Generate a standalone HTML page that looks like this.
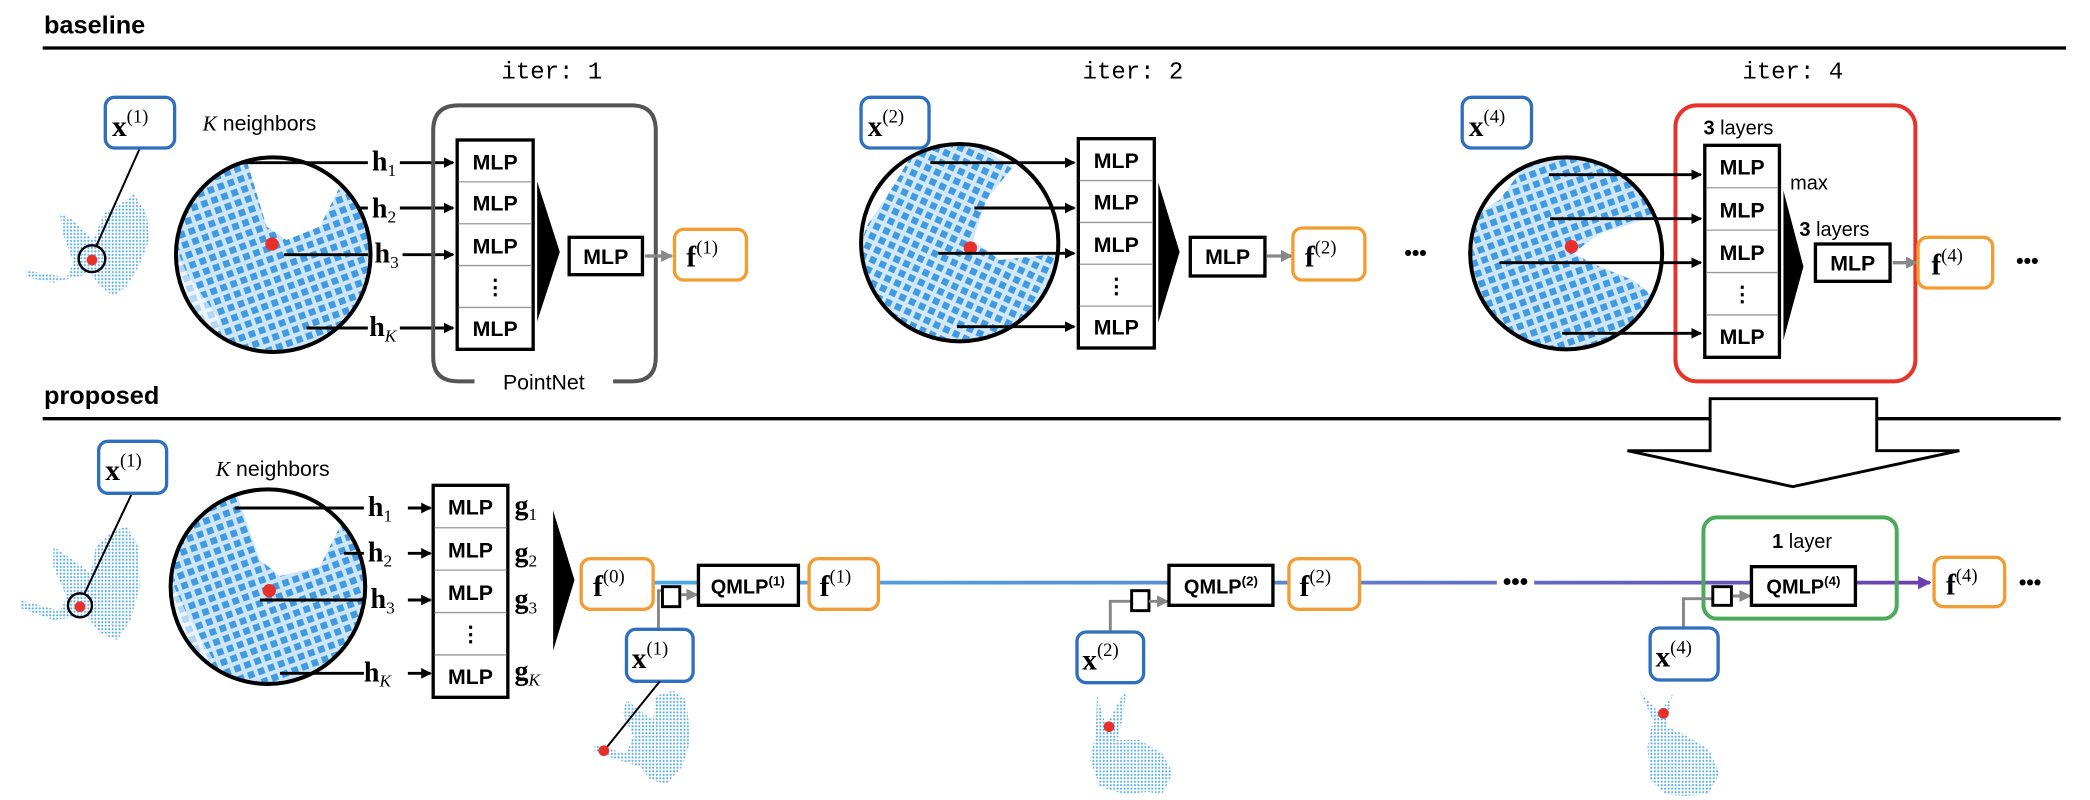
<!DOCTYPE html>
<html><head><meta charset="utf-8"><style>
html,body{margin:0;padding:0;background:#fff;}
svg{display:block;}
.sans{font-family:"Liberation Sans",sans-serif;}
.mlp{font-family:"Liberation Sans",sans-serif;font-weight:bold;font-size:16px;text-anchor:middle;}
.ser{font-family:"Liberation Serif",serif;}
</style></head><body>
<svg width="2090" height="800" viewBox="0 0 1568 600" preserveAspectRatio="none" xmlns="http://www.w3.org/2000/svg">
<defs>
<pattern id="sq" width="8" height="8" patternUnits="userSpaceOnUse" patternTransform="rotate(-20)"><rect x="0" y="0" width="8" height="8" fill="#cfe6f8"/><rect x="1.5" y="1.5" width="5" height="5" fill="#3f9ae0"/></pattern>
<pattern id="sq2" width="8" height="8" patternUnits="userSpaceOnUse" patternTransform="rotate(25)"><rect x="0" y="0" width="8" height="8" fill="#d3e8f8"/><rect x="1.5" y="1.5" width="5" height="5" fill="#3f9ae0"/></pattern>
<pattern id="dots" width="2.6" height="2.6" patternUnits="userSpaceOnUse"><circle cx="1.3" cy="1.3" r="0.8" fill="#5aaee8"/></pattern>
<marker id="ab" markerWidth="8" markerHeight="8" refX="7" refY="4" orient="auto" markerUnits="userSpaceOnUse"><path d="M0,0 L8,4 L0,8 z" fill="#000"/></marker>
<marker id="ag" markerWidth="9" markerHeight="9" refX="8" refY="4.5" orient="auto" markerUnits="userSpaceOnUse"><path d="M0,0 L9,4.5 L0,9 z" fill="#888"/></marker>
<marker id="ap" markerWidth="10" markerHeight="10" refX="9" refY="5" orient="auto" markerUnits="userSpaceOnUse"><path d="M0,0 L10,5 L0,10 z" fill="#6a3fb0"/></marker>
<linearGradient id="lg" x1="490" y1="0" x2="1450" y2="0" gradientUnits="userSpaceOnUse"><stop offset="0" stop-color="#4aa8e8"/><stop offset="0.45" stop-color="#5a8ad8"/><stop offset="1" stop-color="#6a3fb0"/></linearGradient>
<clipPath id="c1"><circle cx="205" cy="191" r="73"/></clipPath>
<clipPath id="c2"><circle cx="720" cy="182" r="74"/></clipPath>
<clipPath id="c4"><circle cx="1175" cy="190" r="72"/></clipPath>
<clipPath id="c5"><circle cx="201" cy="440" r="73"/></clipPath>
</defs>

<text x="33" y="25" class="sans" font-weight="bold" font-size="19">baseline</text>
<line x1="32" y1="36" x2="1550" y2="36" stroke="#000" stroke-width="2.5"/>
<text x="33" y="303" class="sans" font-weight="bold" font-size="19">proposed</text>
<line x1="32" y1="314" x2="1283" y2="314" stroke="#000" stroke-width="2.5"/>
<line x1="1408" y1="314" x2="1546" y2="314" stroke="#000" stroke-width="2.5"/>

<g font-family="Liberation Mono, monospace" font-size="18" text-anchor="middle">
<text x="414" y="59">iter: 1</text>
<text x="850" y="59">iter: 2</text>
<text x="1345" y="59">iter: 4</text>
</g>

<!-- TOP ITER 1 -->
<path d="M20,203 L50,208 L55,197 L47,175 L45,160 L55,165 L70,180 L78,160 L95,150 L100,145 L110,160 L112,180 L104,200 L95,215 L85,222 L75,215 L68,205 L40,212 L20,208 z" fill="url(#dots)"/>
<circle cx="69" cy="195" r="4" fill="#e8302a"/>
<circle cx="69" cy="194" r="10" fill="none" stroke="#000" stroke-width="1.8"/>
<line x1="105" y1="111" x2="72" y2="185" stroke="#000" stroke-width="1.5"/>
<rect x="79" y="73" width="52" height="38" rx="7" fill="#fff" stroke="#2f6fbf" stroke-width="2.5"/>
<text x="84" y="102" class="ser" font-weight="bold" font-size="22">x<tspan font-weight="normal" font-size="14" dy="-10">(1)</tspan></text>
<text x="152" y="98" class="sans" font-size="16"><tspan class="ser" font-style="italic">K</tspan> neighbors</text>
<g clip-path="url(#c1)">
<rect x="130" y="116" width="150" height="150" fill="url(#sq)"/>
<path d="M160,116 L185,120 L200,170 L215,180 L240,170 L255,140 L262,116 z" fill="#fff"/>
<path d="M130,180 L140,205 L165,240 L160,266 L130,266 z" fill="#fff" opacity="0.6"/>
<path d="M130,116 L160,116 L150,135 L130,150 z" fill="#fff"/>
</g>
<circle cx="205" cy="191" r="73" fill="none" stroke="#000" stroke-width="3"/>
<circle cx="204" cy="183" r="5" fill="#e8302a"/>
<g stroke="#000" stroke-width="2.2">
<line x1="180" y1="122" x2="276" y2="122"/>
<line x1="268" y1="156" x2="276" y2="156"/>
<line x1="213" y1="191" x2="276" y2="191"/>
<line x1="230" y1="246" x2="276" y2="246"/>
<line x1="300" y1="122" x2="340" y2="122" marker-end="url(#ab)"/>
<line x1="300" y1="156" x2="340" y2="156" marker-end="url(#ab)"/>
<line x1="302" y1="191" x2="340" y2="191" marker-end="url(#ab)"/>
<line x1="300" y1="246" x2="340" y2="246" marker-end="url(#ab)"/>
</g>
<g class="ser" font-weight="bold" font-size="21">
<text x="279" y="128">h<tspan font-weight="normal" font-size="13" dy="4">1</tspan></text>
<text x="279" y="163">h<tspan font-weight="normal" font-size="13" dy="4">2</tspan></text>
<text x="281" y="197">h<tspan font-weight="normal" font-size="13" dy="4">3</tspan></text>
<text x="277" y="252">h<tspan font-weight="normal" font-style="italic" font-size="13" dy="4">K</tspan></text>
</g>
<path d="M400,79 L344,79 Q325,79 325,98 L325,268 Q325,286 344,286 L356,286 M460,286 L474,286 Q492,286 492,268 L492,98 Q492,79 474,79 L400,79" fill="none" stroke="#555" stroke-width="3"/>
<text x="408" y="292" class="sans" font-size="16" text-anchor="middle">PointNet</text>

<g id="stack1">
<rect x="343" y="105" width="57" height="157" fill="#fff" stroke="#000" stroke-width="2.5"/>
<g stroke="#999" stroke-width="1"><line x1="344" y1="136.4" x2="399" y2="136.4"/><line x1="344" y1="167.8" x2="399" y2="167.8"/><line x1="344" y1="199.2" x2="399" y2="199.2"/><line x1="344" y1="230.6" x2="399" y2="230.6"/></g>
<text x="371.5" y="127" class="mlp">MLP</text><text x="371.5" y="158" class="mlp">MLP</text><text x="371.5" y="190" class="mlp">MLP</text><text x="371.5" y="221" class="mlp">⋮</text><text x="371.5" y="252" class="mlp">MLP</text>
</g>
<path d="M403,136 L420,189 L403,241 z" fill="#000"/>
<rect x="427" y="178" width="55" height="28" fill="#fff" stroke="#000" stroke-width="2.5"/>
<text x="454.5" y="198" class="mlp">MLP</text>
<line x1="484" y1="192" x2="504" y2="192" stroke="#888" stroke-width="2.5" marker-end="url(#ag)"/>
<rect x="506" y="172" width="54" height="38" rx="7" fill="#fff" stroke="#f39c32" stroke-width="2.5"/>
<text x="515" y="200" class="ser" font-weight="bold" font-size="22">f<tspan font-weight="normal" font-size="14" dy="-10">(1)</tspan></text>

<!-- TOP ITER 2 -->
<g clip-path="url(#c2)">
<rect x="644" y="106" width="152" height="152" fill="url(#sq2)"/>
<path d="M700,106 L796,106 L796,190 L750,195 L730,180 L740,150 L760,125 L735,110 z" fill="#fff"/>
<path d="M644,106 L690,106 L670,140 L650,170 L644,190 z" fill="#fff"/>
<path d="M800,200 L770,235 L740,258 L800,258 z" fill="#fff" opacity="0.6"/>
</g>
<circle cx="720" cy="182" r="74" fill="none" stroke="#000" stroke-width="3"/>
<circle cx="728" cy="186" r="5" fill="#e8302a"/>
<rect x="646" y="73" width="51" height="38" rx="7" fill="#fff" stroke="#2f6fbf" stroke-width="2.5"/>
<text x="651" y="102" class="ser" font-weight="bold" font-size="22">x<tspan font-weight="normal" font-size="14" dy="-10">(2)</tspan></text>
<g stroke="#000" stroke-width="2.2">
<line x1="698" y1="122" x2="806" y2="122" marker-end="url(#ab)"/>
<line x1="731" y1="156" x2="806" y2="156" marker-end="url(#ab)"/>
<line x1="704" y1="190" x2="806" y2="190" marker-end="url(#ab)"/>
<line x1="718" y1="245" x2="806" y2="245" marker-end="url(#ab)"/>
</g>
<use href="#stack1" transform="translate(466,-1)"/>
<path d="M869,137 L885,189 L869,242 z" fill="#000"/>
<rect x="893" y="178" width="56" height="29" fill="#fff" stroke="#000" stroke-width="2.5"/>
<text x="921" y="198" class="mlp">MLP</text>
<line x1="950" y1="192" x2="969" y2="192" stroke="#888" stroke-width="2.5" marker-end="url(#ag)"/>
<rect x="970" y="171" width="54" height="39" rx="7" fill="#fff" stroke="#f39c32" stroke-width="2.5"/>
<text x="979" y="200" class="ser" font-weight="bold" font-size="22">f<tspan font-weight="normal" font-size="14" dy="-10">(2)</tspan></text>
<text x="1062" y="195" class="sans" font-weight="bold" font-size="16" text-anchor="middle">•••</text>

<!-- TOP ITER 4 -->
<g clip-path="url(#c4)">
<rect x="1100" y="116" width="150" height="150" fill="url(#sq)"/>
<path d="M1180,190 L1200,175 L1250,160 L1250,230 L1225,210 L1200,200 z" fill="#fff"/>
<path d="M1100,116 L1150,116 L1125,150 L1100,165 z" fill="#fff"/>
<path d="M1100,235 L1125,240 L1130,266 L1100,266 z" fill="#fff" opacity="0.6"/>
</g>
<circle cx="1175" cy="190" r="72" fill="none" stroke="#000" stroke-width="3"/>
<circle cx="1179" cy="185" r="5" fill="#e8302a"/>
<rect x="1097" y="73" width="52" height="38" rx="7" fill="#fff" stroke="#2f6fbf" stroke-width="2.5"/>
<text x="1102" y="102" class="ser" font-weight="bold" font-size="22">x<tspan font-weight="normal" font-size="14" dy="-10">(4)</tspan></text>
<rect x="1257" y="79" width="180" height="207" rx="16" fill="none" stroke="#e8332a" stroke-width="3"/>
<text x="1278" y="101" class="sans" font-size="15"><tspan font-weight="bold">3</tspan> layers</text>
<g stroke="#000" stroke-width="2.2">
<line x1="1162" y1="131" x2="1276" y2="131" marker-end="url(#ab)"/>
<line x1="1163" y1="164" x2="1276" y2="164" marker-end="url(#ab)"/>
<line x1="1125" y1="197" x2="1276" y2="197" marker-end="url(#ab)"/>
<line x1="1172" y1="250" x2="1276" y2="250" marker-end="url(#ab)"/>
</g>
<g>
<rect x="1279" y="109" width="56" height="159" fill="#fff" stroke="#000" stroke-width="2.5"/>
<g stroke="#999" stroke-width="1"><line x1="1280" y1="140.8" x2="1334" y2="140.8"/><line x1="1280" y1="172.6" x2="1334" y2="172.6"/><line x1="1280" y1="204.4" x2="1334" y2="204.4"/><line x1="1280" y1="236.2" x2="1334" y2="236.2"/></g>
<text x="1307" y="131" class="mlp">MLP</text><text x="1307" y="163" class="mlp">MLP</text><text x="1307" y="195" class="mlp">MLP</text><text x="1307" y="226" class="mlp">⋮</text><text x="1307" y="258" class="mlp">MLP</text>
</g>
<text x="1343" y="142" class="sans" font-size="15">max</text>
<path d="M1338,143 L1353,200 L1338,255 z" fill="#000"/>
<text x="1350" y="177" class="sans" font-size="15"><tspan font-weight="bold">3</tspan> layers</text>
<rect x="1362" y="183" width="56" height="28" fill="#fff" stroke="#000" stroke-width="2.5"/>
<text x="1390" y="203" class="mlp">MLP</text>
<line x1="1420" y1="197" x2="1438" y2="197" stroke="#888" stroke-width="2.5" marker-end="url(#ag)"/>
<rect x="1439" y="178" width="56" height="38" rx="7" fill="#fff" stroke="#f39c32" stroke-width="2.5"/>
<text x="1449" y="206" class="ser" font-weight="bold" font-size="22">f<tspan font-weight="normal" font-size="14" dy="-10">(4)</tspan></text>
<text x="1521" y="201" class="sans" font-weight="bold" font-size="16" text-anchor="middle">•••</text>

<path d="M1283,299 L1408,299 L1408,338 L1470,338 L1345,365 L1221,338 L1283,338 z" fill="#fff" stroke="#000" stroke-width="2.2"/>

<!-- BOTTOM -->
<path d="M15,450 L45,458 L50,448 L40,425 L40,410 L55,420 L68,430 L72,410 L85,398 L95,395 L104,410 L105,440 L98,465 L88,480 L75,475 L65,462 L40,465 L15,456 z" fill="url(#dots)"/>
<circle cx="60" cy="455" r="4" fill="#e8302a"/>
<circle cx="60" cy="454" r="9" fill="none" stroke="#000" stroke-width="1.8"/>
<line x1="99" y1="370" x2="63" y2="446" stroke="#000" stroke-width="1.5"/>
<rect x="74" y="331" width="51" height="39" rx="7" fill="#fff" stroke="#2f6fbf" stroke-width="2.5"/>
<text x="79" y="360" class="ser" font-weight="bold" font-size="22">x<tspan font-weight="normal" font-size="14" dy="-10">(1)</tspan></text>
<text x="162" y="357" class="sans" font-size="16"><tspan class="ser" font-style="italic">K</tspan> neighbors</text>
<g clip-path="url(#c5)">
<rect x="126" y="365" width="150" height="150" fill="url(#sq)"/>
<path d="M158,365 L178,372 L195,420 L210,432 L240,425 L255,395 L265,365 z" fill="#fff"/>
<path d="M126,430 L140,460 L160,495 L155,515 L126,515 z" fill="#fff" opacity="0.6"/>
<path d="M126,365 L155,365 L145,385 L126,400 z" fill="#fff"/>
</g>
<circle cx="201" cy="440" r="73" fill="none" stroke="#000" stroke-width="3"/>
<circle cx="202" cy="443" r="5" fill="#e8302a"/>
<g stroke="#000" stroke-width="2.2">
<line x1="176" y1="381" x2="273" y2="381"/>
<line x1="258" y1="415" x2="273" y2="415"/>
<line x1="195" y1="450" x2="273" y2="450"/>
<line x1="210" y1="505" x2="273" y2="505"/>
<line x1="306" y1="381" x2="323" y2="381" marker-end="url(#ab)"/>
<line x1="306" y1="415" x2="323" y2="415" marker-end="url(#ab)"/>
<line x1="306" y1="450" x2="323" y2="450" marker-end="url(#ab)"/>
<line x1="306" y1="505" x2="323" y2="505" marker-end="url(#ab)"/>
</g>
<g class="ser" font-weight="bold" font-size="21">
<text x="276" y="387">h<tspan font-weight="normal" font-size="13" dy="4">1</tspan></text>
<text x="276" y="421">h<tspan font-weight="normal" font-size="13" dy="4">2</tspan></text>
<text x="278" y="456">h<tspan font-weight="normal" font-size="13" dy="4">3</tspan></text>
<text x="273" y="511">h<tspan font-weight="normal" font-style="italic" font-size="13" dy="4">K</tspan></text>
<text x="386" y="386">g<tspan font-weight="normal" font-size="13" dy="4">1</tspan></text>
<text x="386" y="421">g<tspan font-weight="normal" font-size="13" dy="4">2</tspan></text>
<text x="386" y="456">g<tspan font-weight="normal" font-size="13" dy="4">3</tspan></text>
<text x="386" y="510">g<tspan font-weight="normal" font-style="italic" font-size="13" dy="4">K</tspan></text>
</g>
<g>
<rect x="325" y="364" width="56" height="159" fill="#fff" stroke="#000" stroke-width="2.5"/>
<g stroke="#999" stroke-width="1"><line x1="326" y1="395.8" x2="380" y2="395.8"/><line x1="326" y1="427.6" x2="380" y2="427.6"/><line x1="326" y1="459.4" x2="380" y2="459.4"/><line x1="326" y1="491.2" x2="380" y2="491.2"/></g>
<text x="353" y="386" class="mlp">MLP</text><text x="353" y="418" class="mlp">MLP</text><text x="353" y="450" class="mlp">MLP</text><text x="353" y="481" class="mlp">⋮</text><text x="353" y="513" class="mlp">MLP</text>
</g>
<path d="M415,383 L431,435 L415,488 z" fill="#000"/>

<line x1="490" y1="437" x2="1123" y2="437" stroke="url(#lg)" stroke-width="2.8"/>
<line x1="1151" y1="437" x2="1448" y2="437" stroke="url(#lg)" stroke-width="2.8" marker-end="url(#ap)"/>
<text x="1137" y="442" class="sans" font-weight="bold" font-size="18" text-anchor="middle">•••</text>

<rect x="436" y="419" width="54" height="38" rx="7" fill="#fff" stroke="#f39c32" stroke-width="2.5"/>
<text x="445" y="447" class="ser" font-weight="bold" font-size="22">f<tspan font-weight="normal" font-size="14" dy="-10">(0)</tspan></text>

<path d="M494,472 L494,443 L497,443" fill="none" stroke="#888" stroke-width="2.2"/>
<rect x="497" y="440" width="13" height="15" fill="#fff" stroke="#000" stroke-width="2.2"/>
<line x1="511" y1="446" x2="523" y2="446" stroke="#888" stroke-width="2.2" marker-end="url(#ag)"/>
<rect x="524" y="424" width="75" height="30" fill="#fff" stroke="#000" stroke-width="2.5"/>
<text x="561" y="445" class="sans" font-weight="bold" font-size="15" text-anchor="middle">QMLP<tspan font-size="10" dy="-6">(1)</tspan></text>
<rect x="607" y="419" width="52" height="38" rx="7" fill="#fff" stroke="#f39c32" stroke-width="2.5"/>
<text x="615" y="447" class="ser" font-weight="bold" font-size="22">f<tspan font-weight="normal" font-size="14" dy="-10">(1)</tspan></text>
<rect x="470" y="472" width="50" height="39" rx="7" fill="#fff" stroke="#2f6fbf" stroke-width="2.5"/>
<text x="474" y="501" class="ser" font-weight="bold" font-size="22">x<tspan font-weight="normal" font-size="14" dy="-10">(1)</tspan></text>
<path d="M446,559 L470,565 L475,552 L467,535 L470,525 L483,535 L490,540 L492,522 L505,518 L515,525 L518,555 L512,575 L500,588 L488,585 L480,575 L458,568 L446,564 z" fill="url(#dots)"/>
<line x1="495" y1="511" x2="454" y2="562" stroke="#000" stroke-width="1.5"/>
<circle cx="453" cy="563" r="4" fill="#e8302a"/>

<path d="M833,474 L833,451 L849,451" fill="none" stroke="#888" stroke-width="2.2"/>
<rect x="849" y="443" width="13" height="15" fill="#fff" stroke="#000" stroke-width="2.2"/>
<line x1="862" y1="451" x2="876" y2="451" stroke="#888" stroke-width="2.2" marker-end="url(#ag)"/>
<rect x="877" y="424" width="78" height="30" fill="#fff" stroke="#000" stroke-width="2.5"/>
<text x="916" y="445" class="sans" font-weight="bold" font-size="15" text-anchor="middle">QMLP<tspan font-size="10" dy="-6">(2)</tspan></text>
<rect x="967" y="419" width="53" height="38" rx="7" fill="#fff" stroke="#f39c32" stroke-width="2.5"/>
<text x="975" y="447" class="ser" font-weight="bold" font-size="22">f<tspan font-weight="normal" font-size="14" dy="-10">(2)</tspan></text>
<rect x="808" y="474" width="50" height="38" rx="7" fill="#fff" stroke="#2f6fbf" stroke-width="2.5"/>
<text x="812" y="502" class="ser" font-weight="bold" font-size="22">x<tspan font-weight="normal" font-size="14" dy="-10">(2)</tspan></text>
<path d="M823,522 L830,545 L840,525 L845,518 L842,540 L838,555 L855,555 L872,565 L880,580 L872,595 L860,594 L845,596 L825,590 L818,570 L822,550 z" fill="url(#dots)"/>
<circle cx="832" cy="545" r="4" fill="#e8302a"/>

<rect x="1278" y="388" width="145" height="76" rx="10" fill="none" stroke="#4caa5a" stroke-width="3"/>
<text x="1352" y="411" class="sans" font-size="15" text-anchor="middle"><tspan font-weight="bold">1</tspan> layer</text>
<path d="M1263,471 L1263,449 L1285,449" fill="none" stroke="#888" stroke-width="2.2"/>
<rect x="1285" y="440" width="14" height="14" fill="#fff" stroke="#000" stroke-width="2.2"/>
<line x1="1300" y1="447" x2="1313" y2="447" stroke="#888" stroke-width="2.2" marker-end="url(#ag)"/>
<rect x="1314" y="425" width="78" height="29" fill="#fff" stroke="#000" stroke-width="2.5"/>
<text x="1353" y="445" class="sans" font-weight="bold" font-size="15" text-anchor="middle">QMLP<tspan font-size="10" dy="-6">(4)</tspan></text>
<rect x="1451" y="418" width="53" height="37" rx="7" fill="#fff" stroke="#f39c32" stroke-width="2.5"/>
<text x="1460" y="446" class="ser" font-weight="bold" font-size="22">f<tspan font-weight="normal" font-size="14" dy="-10">(4)</tspan></text>
<text x="1523" y="442" class="sans" font-weight="bold" font-size="16" text-anchor="middle">•••</text>
<rect x="1238" y="471" width="51" height="39" rx="7" fill="#fff" stroke="#2f6fbf" stroke-width="2.5"/>
<text x="1242" y="500" class="ser" font-weight="bold" font-size="22">x<tspan font-weight="normal" font-size="14" dy="-10">(4)</tspan></text>
<path d="M1230,518 L1245,535 L1255,520 L1250,545 L1262,550 L1282,562 L1290,580 L1282,595 L1265,597 L1250,596 L1238,585 L1236,560 L1240,540 z" fill="url(#dots)"/>
<circle cx="1248" cy="535" r="4" fill="#e8302a"/>
</svg>
</body></html>
